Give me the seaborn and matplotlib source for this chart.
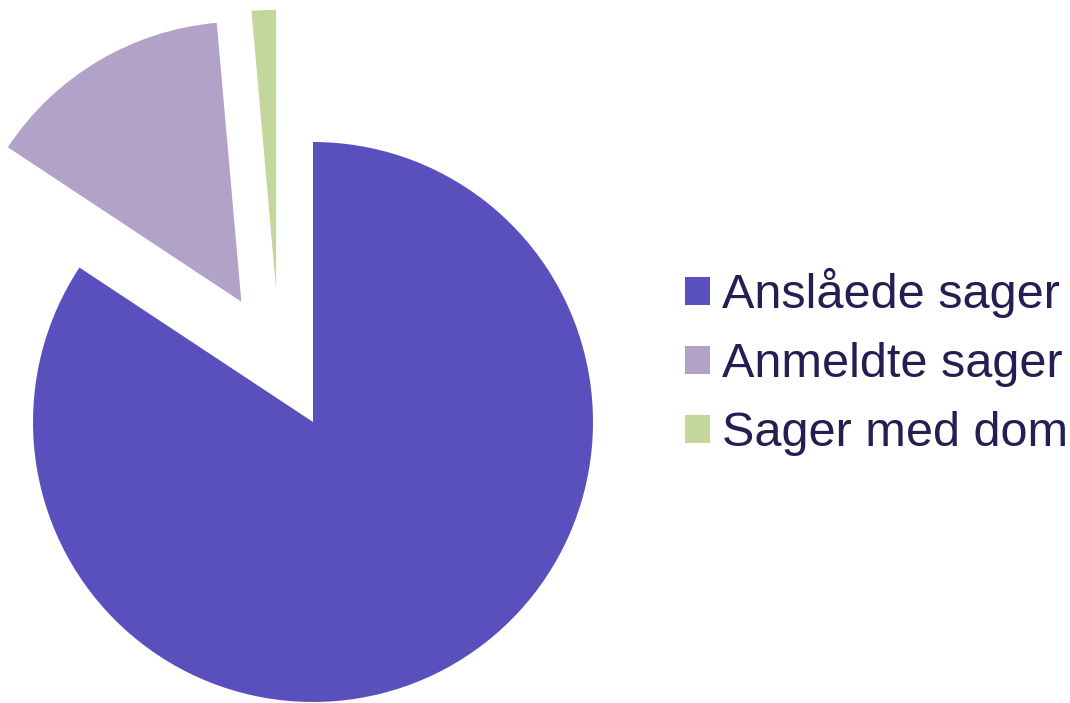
import numpy as np
import matplotlib
matplotlib.use("Agg")
import matplotlib.pyplot as plt
import seaborn as sns

labels = ["Anslåede sager", "Anmeldte sager", "Sager med dom"]
values = [84.3, 14.3, 1.4]
colors = ["#5a50bd", "#b3a2c7", "#c3d69b"]
explode = [0, 0.5, 0.49]

sns.set_theme(style="white")
plt.rcParams["font.family"] = ["Liberation Sans", "DejaVu Sans"]

fig = plt.figure(figsize=(10.7, 7.03), dpi=100)
ax = fig.add_axes([0, 0, 1, 1])

wedges, _ = ax.pie(values, colors=sns.color_palette(colors), explode=explode,
                   startangle=90, counterclock=False, radius=1,
                   wedgeprops=dict(linewidth=0))

# the small slice is pushed up-left rather than along its mid angle
ang = np.deg2rad(105.6)
wedges[2].set_center((explode[2] * np.cos(ang), explode[2] * np.sin(ang)))

ax.set_aspect("equal")
ax.set_xlim(-313 / 280, (1070 - 313) / 280)
ax.set_ylim(-281 / 280, 422 / 280)
ax.axis("off")

leg = fig.legend(wedges, labels, loc="center left", bbox_to_anchor=(0.6405, 0.485),
                 frameon=False, fontsize=35, handlelength=0.5, handleheight=0.5,
                 handletextpad=0.25, labelspacing=0.49, borderpad=0, borderaxespad=0)
for t in leg.get_texts():
    t.set_color("#231f52")

fig.savefig("out.png", dpi=100)
